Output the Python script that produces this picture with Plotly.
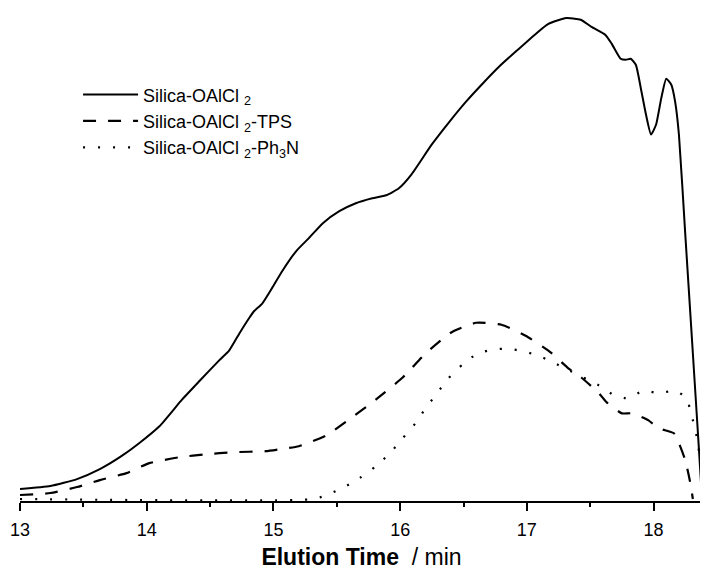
import plotly.graph_objects as go

# Silica-OAlCl2 (solid)
t_solid = [13.00, 13.24, 13.45, 13.63, 13.80, 13.94, 14.10, 14.28, 14.42, 14.57, 14.65, 14.73,
           14.81, 14.85, 14.91, 14.99, 15.07, 15.18, 15.28, 15.39, 15.52, 15.65, 15.78, 15.89,
           15.99, 16.09, 16.25, 16.39, 16.52, 16.65, 16.78, 16.91, 17.07, 17.17, 17.31, 17.39,
           17.43, 17.51, 17.62, 17.67, 17.74, 17.78, 17.82, 17.86, 17.90, 17.94, 17.98, 18.02,
           18.06, 18.10, 18.14, 18.17, 18.20, 18.25, 18.30, 18.35, 18.38]
v_solid = [10, 13, 20, 30, 43, 56, 73, 100, 119, 139, 149, 166,
           182, 189, 196, 212, 229, 249, 262, 277, 289, 297, 302, 305,
           312, 326, 356, 379, 399, 417, 434, 449, 467, 477, 483, 482,
           481, 474, 466, 457, 442, 441, 442, 436, 412, 386, 366, 376,
           402, 422, 416, 399, 366, 266, 166, 66, 5]

# Silica-OAlCl2-TPS (dashed)
t_tps = [13.00, 13.24, 13.45, 13.63, 13.84, 14.02, 14.26, 14.47, 14.68, 14.94, 15.05, 15.20,
         15.42, 15.61, 15.81, 16.02, 16.20, 16.40, 16.60, 16.80, 16.99, 17.19, 17.33, 17.43,
         17.57, 17.63, 17.75, 17.83, 17.96, 18.04, 18.16, 18.20, 18.25, 18.29, 18.31]
v_tps = [4, 6, 12, 19, 26, 36, 42, 45, 47, 48, 50, 53,
         64, 81, 100, 122, 146, 167, 177, 175, 164, 147, 131, 122,
         106, 97, 86, 86, 79, 71, 66, 56, 39, 16, 0]

# Silica-OAlCl2-Ph3N (dotted)
t_ph3n = [13.00, 15.32, 15.44, 15.56, 15.68, 15.80, 15.92, 16.02, 16.12, 16.20, 16.29, 16.38,
          16.50, 16.61, 16.73, 16.85, 16.98, 17.09, 17.21, 17.32, 17.57, 17.69, 17.80, 17.92,
          18.04, 18.17, 18.26, 18.30, 18.33, 18.35, 18.37, 18.38]
v_ph3n = [0, 0, 5, 12, 21, 32, 46, 61, 76, 91, 106, 121,
          136, 146, 150, 151, 148, 144, 137, 130, 114, 104, 101, 109,
          106, 109, 101, 84, 69, 56, 32, 6]

names = ["Silica-OAlCl <sub>2</sub>", "Silica-OAlCl <sub>2</sub>-TPS",
         "Silica-OAlCl <sub>2</sub>-Ph<sub>3</sub>N"]
x_ticks = [13, 14, 15, 16, 17, 18]

fig = go.Figure()
fig.add_trace(go.Scatter(x=t_solid, y=v_solid, mode="lines", name=names[0],
                         line=dict(color="black", width=2, shape="spline", smoothing=0.5)))
fig.add_trace(go.Scatter(x=t_tps, y=v_tps, mode="lines", name=names[1],
                         line=dict(color="black", width=2.2, dash="13px,12px", shape="spline", smoothing=0.5)))
fig.add_trace(go.Scatter(x=t_ph3n, y=v_ph3n, mode="lines", name=names[2],
                         line=dict(color="black", width=2.2, dash="2px,13px", shape="spline", smoothing=0.5)))

# page body has an 8px margin, so the figure is sized to fit the 708x570 window
fig.update_layout(
    width=700, height=562,
    margin=dict(l=12, r=5, t=2, b=69, autoexpand=False),
    paper_bgcolor="white", plot_bgcolor="white",
    font=dict(family="Liberation Sans, Arial, sans-serif", color="black"),
    showlegend=True,
    legend=dict(x=0.085, y=0.865, xanchor="left", yanchor="top",
                font=dict(size=18), bgcolor="rgba(0,0,0,0)",
                tracegroupgap=0, itemwidth=55),
    xaxis=dict(range=[13, 18.39], tickvals=x_ticks, ticktext=[str(v) for v in x_ticks],
               automargin=False,
               showline=True, linecolor="black", linewidth=1.5, showgrid=False, zeroline=False,
               ticks="outside", ticklen=8, tickwidth=1.5, tickcolor="black",
               tickfont=dict(size=18), ticklabelstandoff=4,
               minor=dict(dtick=0.5, ticks="outside", ticklen=4, tickwidth=1.5, tickcolor="black", showgrid=False),
               title=dict(text="<b>Elution Time</b>  / min", font=dict(size=23), standoff=14)),
    yaxis=dict(range=[-2, 491], visible=False, showgrid=False, zeroline=False, automargin=False),
)

fig.write_html("out.html")
